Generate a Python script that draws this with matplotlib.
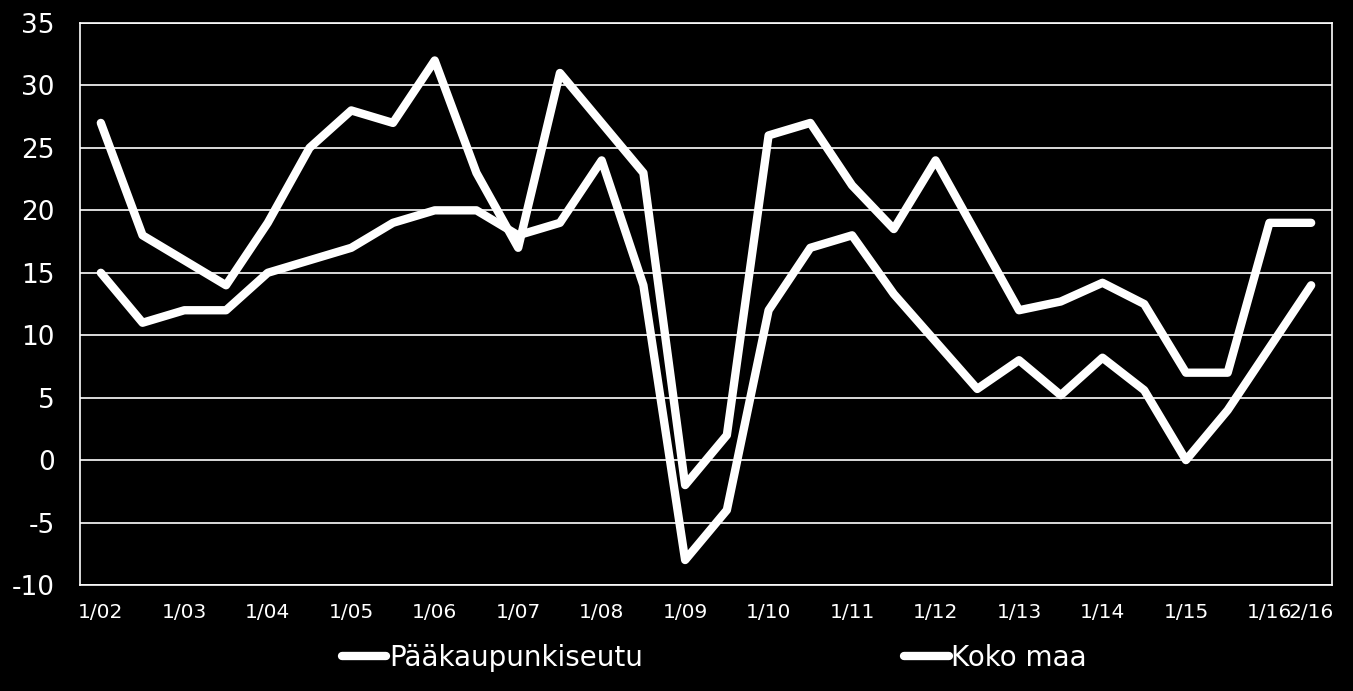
import matplotlib
matplotlib.use("Agg")
import matplotlib.pyplot as plt

# data (half-year steps)
periods = ["1/02", "", "1/03", "", "1/04", "", "1/05", "", "1/06", "", "1/07", "",
           "1/08", "", "1/09", "", "1/10", "", "1/11", "", "1/12", "", "1/13", "",
           "1/14", "", "1/15", "", "1/16", "2/16"]
paakaupunkiseutu = [27, 18, 16, 14, 19, 25, 28, 27, 32, 23, 17, 31, 27, 23, -2, 2,
                    26, 27, 22, 18.5, 24, 18, 12, 12.7, 14.2, 12.5, 7, 7, 19, 19]
koko_maa = [15, 11, 12, 12, 15, 16, 17, 19, 20, 20, 18, 19, 24, 14, -8, -4,
            12, 17, 18, 13.3, 9.5, 5.7, 8, 5.2, 8.2, 5.6, 0, 4, 9, 14]
series_names = ["Pääkaupunkiseutu", "Koko maa"]

plt.rcParams['font.family'] = ['DejaVu Sans']
plt.rcParams['axes.unicode_minus'] = False

fig = plt.figure(figsize=(13.53, 6.91), dpi=100, facecolor="black")
ax = fig.add_axes([0.0591, 0.1534, 0.9254, 0.8133], facecolor="black")

x = list(range(len(periods)))
ax.plot(x, paakaupunkiseutu, color="white", linewidth=6, solid_capstyle="round",
        label=series_names[0], zorder=3)
ax.plot(x, koko_maa, color="white", linewidth=6, solid_capstyle="round",
        label=series_names[1], zorder=3)

ax.set_xlim(-0.5, len(periods) - 0.5)
ax.set_ylim(-10, 35)
ax.set_yticks(range(-10, 36, 5))
ax.set_xticks(x)
ax.set_xticklabels(periods)
ax.grid(axis="y", color="white", linewidth=1.2)
ax.set_axisbelow(True)
for s in ax.spines.values():
    s.set_color("white")
    s.set_linewidth(1.2)
ax.tick_params(axis="both", length=0, colors="white")
ax.tick_params(axis="y", labelsize=19, pad=18)
ax.tick_params(axis="x", labelsize=14.5, pad=13)

fig.legend(loc="center", bbox_to_anchor=(0.528, 0.048), ncol=2, frameon=False,
           fontsize=20, handlelength=1.6, handletextpad=0.1, columnspacing=9.4,
           labelcolor="white")

fig.savefig("out.png", dpi=100, facecolor="black")
